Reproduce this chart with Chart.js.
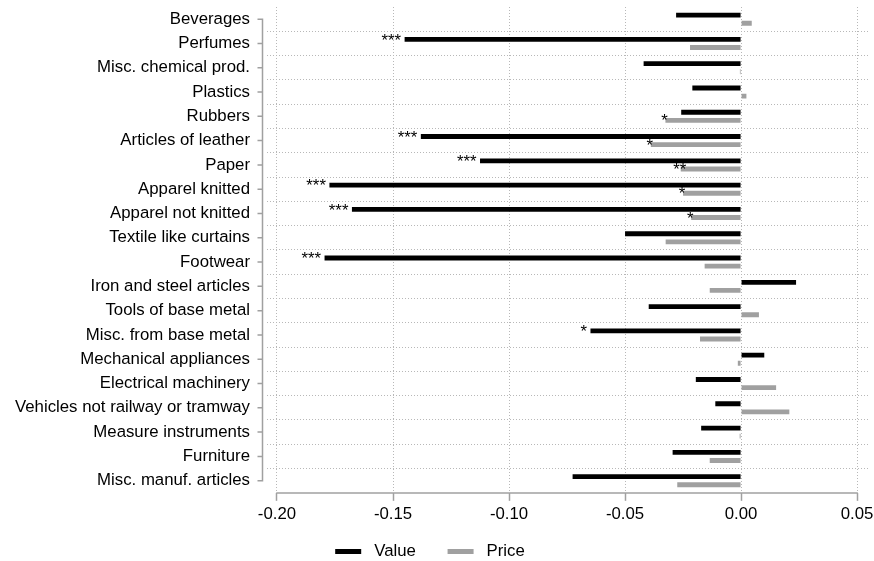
<!DOCTYPE html>
<html>
<head>
<meta charset="utf-8">
<script src="https://cdn.jsdelivr.net/npm/chart.js@4"></script>
<style>
html,body{margin:0;padding:0;background:#fff;}
#wrap{width:874px;height:561px;}
</style>
</head>
<body>
<div id="wrap"><canvas id="c" width="874" height="561"></canvas></div>
<script>
// ---- data ----
const categories = [
  'Beverages', 'Perfumes', 'Misc. chemical prod.', 'Plastics', 'Rubbers',
  'Articles of leather', 'Paper', 'Apparel knitted', 'Apparel not knitted',
  'Textile like curtains', 'Footwear', 'Iron and steel articles',
  'Tools of base metal', 'Misc. from base metal', 'Mechanical appliances',
  'Electrical machinery', 'Vehicles not railway or tramway',
  'Measure instruments', 'Furniture', 'Misc. manuf. articles'
];
const valueData = [
  -0.028, -0.145, -0.042, -0.021, -0.0258,
  -0.138, -0.1125, -0.1774, -0.1677,
  -0.050, -0.1795, 0.0237,
  -0.0398, -0.0649, 0.010,
  -0.0195, -0.0111,
  -0.0172, -0.0295, -0.0726
];
const priceData = [
  0.0046, -0.022, -0.0005, 0.0023, -0.0326,
  -0.0389, -0.026, -0.025, -0.0215,
  -0.0325, -0.0157, -0.0135,
  0.0077, -0.0177, -0.0014,
  0.0151, 0.0208,
  -0.0006, -0.0135, -0.0275
];
const valueStars = [
  '', '***', '', '', '',
  '***', '***', '***', '***',
  '', '***', '',
  '', '*', '',
  '', '',
  '', '', ''
];
const priceStars = [
  '', '', '', '', '*',
  '*', '**', '*', '*',
  '', '', '',
  '', '', '',
  '', '',
  '', '', ''
];
const xTicks = [-0.20, -0.15, -0.10, -0.05, 0.00, 0.05];
const seriesNames = ['Value', 'Price'];
const seriesColors = ['#000000', '#a0a0a0'];

// ---- style ----
const FONT = '"Liberation Sans", Arial, Helvetica, sans-serif';
const FS = 16.8;
const GRID = '#b8b8b8';
const AXIS = '#a0a0a0';

Chart.defaults.font.family = FONT;
Chart.defaults.font.size = FS;
Chart.defaults.color = '#000';

const decor = {
  id: 'decor',
  afterDatasetsDraw(chart) {
    const {ctx, chartArea, scales: {x, y}} = chart;
    ctx.save();
    // x axis line (from first to last tick)
    ctx.strokeStyle = AXIS;
    ctx.lineWidth = 1.5;
    const yb = Math.round(chartArea.bottom);
    ctx.beginPath();
    ctx.moveTo(x.getPixelForValue(xTicks[0]) - 0.75, yb);
    ctx.lineTo(x.getPixelForValue(xTicks[xTicks.length - 1]) + 0.75, yb);
    ctx.stroke();
    // y axis line, detached from plot region, with ticks
    const ax = Math.round(chartArea.left - 5) + 0.5;
    const y0 = y.getPixelForValue(0);
    const y1 = y.getPixelForValue(categories.length - 1);
    ctx.beginPath();
    ctx.moveTo(ax, y0 - 0.75);
    ctx.lineTo(ax, y1 + 0.75);
    categories.forEach((c, i) => {
      const py = y.getPixelForValue(i);
      ctx.moveTo(ax, py);
      ctx.lineTo(ax - 5, py);
    });
    ctx.stroke();

    // significance stars
    ctx.fillStyle = '#000';
    ctx.font = FS + 'px ' + FONT;
    ctx.textBaseline = 'alphabetic';
    const mv = chart.getDatasetMeta(0);
    const mp = chart.getDatasetMeta(1);
    ctx.textAlign = 'right';
    mv.data.forEach((bar, i) => {
      if (valueStars[i]) ctx.fillText(valueStars[i], bar.x - 3.5, bar.y + 6.2);
    });
    ctx.textAlign = 'center';
    mp.data.forEach((bar, i) => {
      if (priceStars[i]) ctx.fillText(priceStars[i], bar.x - 1, bar.y + 6);
    });

    // legend
    const ly = 551.5;
    const lineW = 26, gapT = 13, gapItem = 31.7;
    const widths = seriesNames.map(n => ctx.measureText(n).width);
    const total = seriesNames.reduce((s, n, i) => s + lineW + gapT + widths[i], 0) + gapItem * (seriesNames.length - 1);
    let cx = 430 - total / 2;
    ctx.textAlign = 'left';
    ctx.textBaseline = 'middle';
    seriesNames.forEach((n, i) => {
      ctx.fillStyle = seriesColors[i];
      ctx.fillRect(cx, ly - 2.5, lineW, 5);
      cx += lineW + gapT;
      ctx.fillStyle = '#000';
      ctx.fillText(n, cx, ly);
      cx += widths[i] + gapItem;
    });
    ctx.restore();
  }
};

new Chart(document.getElementById('c'), {
  type: 'bar',
  data: {
    labels: categories,
    datasets: [
      {label: seriesNames[0], data: valueData, backgroundColor: seriesColors[0], borderWidth: 0},
      {label: seriesNames[1], data: priceData, backgroundColor: seriesColors[1], borderWidth: 0}
    ]
  },
  options: {
    indexAxis: 'y',
    responsive: false,
    animation: false,
    devicePixelRatio: 1,
    categoryPercentage: 0.667,
    barPercentage: 0.6,
    layout: {padding: {top: 7, right: 6, bottom: 34, left: 0}},
    plugins: {
      legend: {display: false},
      tooltip: {enabled: false}
    },
    scales: {
      x: {
        type: 'linear',
        min: -0.2043,
        max: 0.0547,
        afterBuildTicks(scale) {
          scale.ticks = xTicks.map(v => ({value: v}));
        },
        afterFit(scale) { scale.paddingLeft = 0; scale.paddingRight = 0; },
        ticks: {
          color: '#000',
          font: {size: FS},
          padding: 3,
          maxRotation: 0,
          autoSkip: false,
          callback: v => Number(v).toFixed(2)
        },
        grid: {
          color: GRID,
          lineWidth: 1,
          drawTicks: true,
          tickLength: 8,
          tickColor: AXIS,
          tickWidth: 1.5,
          tickBorderDash: []
        },
        border: {display: false, dash: [1, 2]}
      },
      y: {
        type: 'category',
        afterFit(scale) {
          scale.width = 267;
          scale.paddingTop = 0;
          scale.paddingBottom = 0;
        },
        ticks: {
          color: '#000',
          font: {size: FS},
          padding: 17,
          autoSkip: false
        },
        grid: {
          offset: true,
          drawTicks: false,
          lineWidth: 1,
          color: c => (c.type !== 'tick' || c.index === 0) ? 'rgba(0,0,0,0)' : GRID
        },
        border: {display: false, dash: [1, 2]}
      }
    }
  },
  plugins: [decor]
});
</script>
</body>
</html>
